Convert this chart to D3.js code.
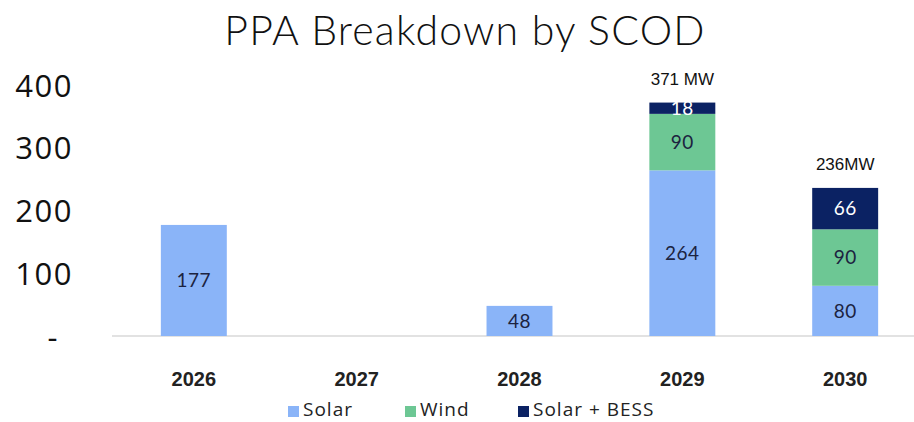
<!DOCTYPE html>
<html><head><meta charset="utf-8">
<script src="https://cdn.jsdelivr.net/npm/d3@7"></script>
<style>body{margin:0;background:#fff}</style>
</head><body>
<svg id="c" width="914" height="422"></svg>
<script>
const categories = ["2026","2027","2028","2029","2030"];
const solar = [177, 0, 48, 264, 80];
const wind = [0, 0, 0, 90, 90];
const solarBess = [0, 0, 0, 18, 66];
const totalLabels = ["", "", "", "371 MW", "236MW"];
const yTicks = [0, 100, 200, 300, 400];
const seriesNames = ["Solar", "Wind", "Solar + BESS"];
const colors = ["#8ab4f8", "#6dc794", "#0b2263"];
const labelColors = ["#1c2340", "#1c2340", "#ffffff"];

const svg = d3.select("#c");
const numFont = "Lato, 'Open Sans', sans-serif";

svg.append("text").attr("x", 465).attr("y", 45).attr("text-anchor", "middle")
  .attr("font-family", "Lato, sans-serif").attr("font-weight", 300).attr("font-size", 41)
  .attr("letter-spacing", 1.2)
  .attr("fill", "#111").text("PPA Breakdown by SCOD");

const x = d3.scaleBand().domain(categories).range([112, 927]).paddingInner(0.595).paddingOuter(0.3);
const y = d3.scaleLinear().domain([0, 400]).range([336, 85]);

const rows = categories.map((c, i) => ({cat: c, Solar: solar[i], Wind: wind[i], "Solar + BESS": solarBess[i]}));
const stacked = d3.stack().keys(seriesNames)(rows);

// axis line
svg.append("line").attr("x1", 112).attr("x2", 914).attr("y1", y(0)).attr("y2", y(0))
  .attr("stroke", "#d9d9d9").attr("stroke-width", 1.5);

stacked.forEach((s, si) => {
  const g = svg.append("g");
  g.selectAll("rect").data(s.filter(d => d[1] - d[0] > 0)).join("rect")
    .attr("x", d => x(d.data.cat)).attr("width", x.bandwidth())
    .attr("y", d => y(d[1])).attr("height", d => y(d[0]) - y(d[1]))
    .attr("fill", colors[si]);
  g.selectAll("text").data(s.filter(d => d[1] - d[0] > 0)).join("text")
    .attr("x", d => x(d.data.cat) + x.bandwidth() / 2)
    .attr("y", d => (y(d[0]) + y(d[1])) / 2)
    .attr("dy", "0.36em").attr("text-anchor", "middle")
    .attr("font-family", numFont).attr("font-size", 19).attr("letter-spacing", 0.5)
    .attr("fill", labelColors[si]).text(d => d[1] - d[0]);
});

// totals
svg.append("g").selectAll("text").data(categories.map((c, i) => ({c, t: totalLabels[i], v: solar[i] + wind[i] + solarBess[i]})).filter(d => d.t))
  .join("text").attr("x", d => x(d.c) + x.bandwidth() / 2).attr("y", d => y(d.v) - 18)
  .attr("text-anchor", "middle").attr("font-family", "Liberation Sans, Arial, sans-serif")
  .attr("font-size", 17).attr("fill", "#111").text(d => d.t);

// y axis
const yAxis = d3.axisLeft(y).tickValues(yTicks).tickSize(0).tickPadding(0)
  .tickFormat(d => d === 0 ? "-" : d);
const ya = svg.append("g").attr("transform", "translate(73,0)").call(yAxis);
ya.select(".domain").remove();
ya.selectAll("text").attr("font-family", "'Open Sans', sans-serif").attr("font-size", 31)
  .attr("letter-spacing", 1.5).attr("fill", "#111")
  .attr("dy", "0.36em")
  .attr("dx", d => d === 0 ? -14 : 0);

// x axis
const xAxis = d3.axisBottom(x).tickSize(0).tickPadding(0);
const xa = svg.append("g").attr("transform", "translate(0,386)").call(xAxis);
xa.select(".domain").remove();
xa.selectAll("text").attr("font-family", "Liberation Sans, Arial, sans-serif")
  .attr("font-size", 20).attr("font-weight", "bold").attr("fill", "#222").attr("dy", "0");

// legend
const legX = [288, 405, 518];
const leg = svg.append("g");
seriesNames.forEach((n, i) => {
  leg.append("rect").attr("x", legX[i]).attr("y", 406).attr("width", 11).attr("height", 11).attr("fill", colors[i]);
  leg.append("text").attr("x", legX[i] + 15).attr("y", 416).attr("font-family", "'Open Sans', sans-serif")
    .attr("font-size", 19).attr("letter-spacing", 1).attr("fill", "#222").text(n);
});
</script>
</body></html>
